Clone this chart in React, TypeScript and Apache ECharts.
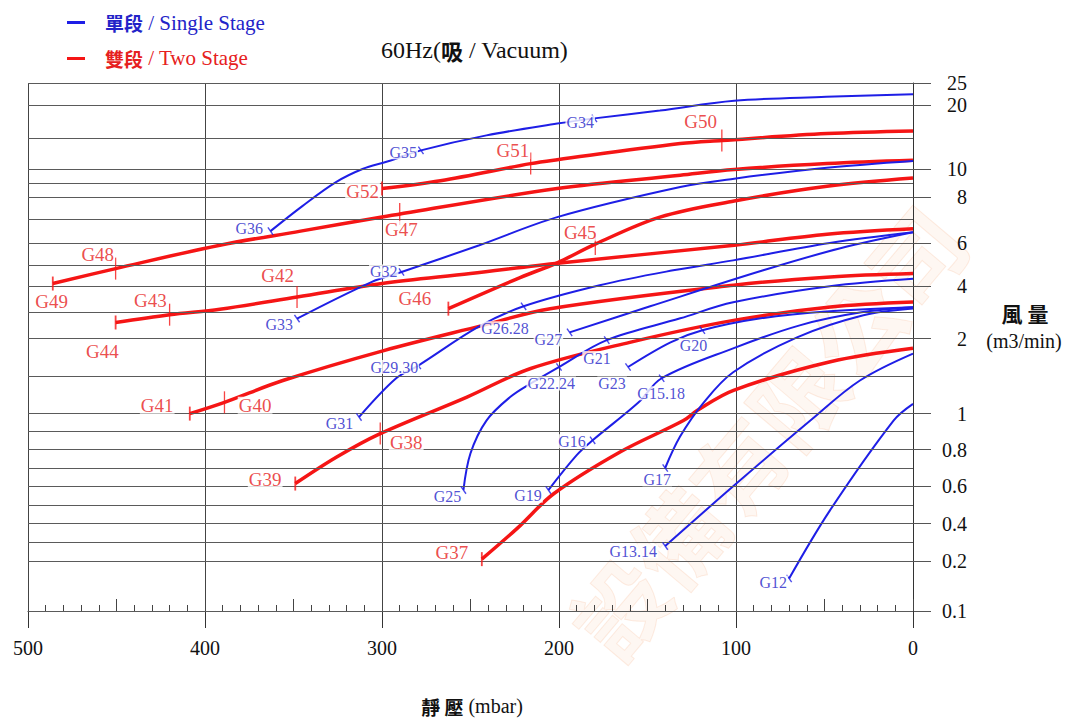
import React, { useEffect, useRef } from "react";
import * as echarts from "echarts";

const BLUE = "#1e1ee6";
const BLUE_TEXT = "#2323c8";
const RED = "#f51515";
const RED_TEXT = "#e62020";
const FONT = "'Liberation Serif', 'Noto Sans CJK TC', serif";
const CJK = "'Noto Sans CJK TC', sans-serif";
const SINGLE = "單段 / Single Stage";
const TWO = "雙段 / Two Stage";

// Vertical scale of the printed chart: gridline values and their measured height above the 0.1 line
const gridValues = [0.1, 0.2, 0.3, 0.4, 0.5, 0.6, 0.7, 0.8, 0.9, 1, 1.5, 2, 3, 4, 5, 6, 7, 8, 9, 10, 15, 20, 25];
const gridHeights = [0, 50, 68.7, 87.4, 106, 124.7, 143, 161.4, 180, 197.4, 235, 272.4, 298.4, 324.7, 346, 368, 391.7, 413.7, 427.4, 442, 473, 505.7, 528];
const yTickValues = [0.1, 0.2, 0.4, 0.6, 0.8, 1, 2, 4, 6, 8, 10, 20, 25];

// Curves: [static pressure mbar, air flow m3/min]
// Single stage (blue)
const g36Curve = [[363, 6.5], [345, 7.6], [326, 9.1], [311, 10.0], [297, 11.2], [278, 13.0], [241, 15.4], [201, 17.2], [180, 18], [143, 19.2], [101, 21], [49, 21.9], [0, 22.5]];
const g33Curve = [[348, 2.77], [306, 4.2], [289, 4.67], [245, 5.9], [201, 7.1], [131.5, 8.75], [101, 9.34], [48.6, 10.2], [0, 11.3]];
const g31Curve = [[313, 0.98], [292, 1.47], [279.5, 1.64], [245.6, 2.45], [220, 3.24], [177, 4.05], [135.5, 4.75], [101.6, 5.21], [47, 6.0], [0, 6.45]];
const g27Curve = [[194, 2.24], [148.5, 3.24], [84.6, 4.75], [41, 5.76], [0, 6.45]];
const g25Curve = [[254, 0.58], [250, 0.78], [241, 0.96], [227.6, 1.22], [216, 1.4], [200, 1.62], [173, 1.98], [131.5, 2.78], [101.6, 3.39], [47, 4.0], [0, 4.35]];
const g23Curve = [[161, 1.62], [137, 1.95], [119, 2.32], [86, 2.78], [47, 3.05], [0, 3.2]];
const g19Curve = [[206, 0.58], [190, 0.77], [181, 0.85], [155, 1.15], [142, 1.47], [101.6, 1.87], [64, 2.51], [30, 3.0], [0, 3.2]];
const g17Curve = [[140, 0.7], [131.6, 0.87], [118.5, 1.14], [101.6, 1.55], [65.5, 2.05], [28, 2.9], [0, 3.16]];
const g13Curve = [[140, 0.28], [101.6, 0.6], [58, 0.96], [30, 1.44], [0, 1.8]];
const g12Curve = [[70, 0.165], [47, 0.47], [11, 0.96], [0, 1.13]];

// Two stage (red)
const g49Curve = [[486, 4.13], [450.5, 4.83], [391.6, 5.9], [346, 6.5], [300, 7.1], [201, 8.64], [131.5, 9.57], [101, 9.96], [48.6, 10.87], [0, 11.4]];
const g52Curve = [[300, 8.64], [267, 9.2], [216, 10.87], [201, 11.5], [131.5, 14.1], [108, 14.6], [48.6, 15.67], [0, 16.07]];
const g44Curve = [[450.5, 2.62], [420, 2.92], [391.6, 3.13], [348, 3.59], [300, 4.13], [250, 4.6], [199.4, 5.09], [101, 5.9], [48.6, 6.37], [0, 6.6]];
const g46Curve = [[262.5, 3.15], [222, 4.41], [201, 5.1], [179.5, 5.95], [143, 7.1], [101, 7.83], [48.6, 8.8], [0, 9.38]];
const g41Curve = [[408.6, 1.0], [389, 1.15], [356, 1.44], [299, 1.84], [243, 2.51], [205, 3.15], [101.4, 4.05], [46.7, 4.44], [0, 4.6]];
const g39Curve = [[349, 0.615], [325.6, 0.76], [301, 0.886], [252, 1.22], [216, 1.6], [160, 1.95], [101.4, 2.7], [46.7, 3.21], [0, 3.4]];
const g37Curve = [[243.6, 0.21], [223, 0.38], [203, 0.56], [165.5, 0.787], [129.7, 0.96], [122, 1.04], [101.4, 1.31], [46.7, 1.69], [0, 1.87]];

// Model range marks on the curves
const blueTicks = [[363, 6.5], [278, 13.0], [180, 18], [348, 2.77], [289, 4.67], [313, 0.98], [279.5, 1.64], [220, 3.24], [194, 2.24], [254, 0.58], [200, 1.62], [173, 1.98], [161, 1.62], [119, 2.32], [206, 0.58], [181, 0.85], [142, 1.47], [140, 0.7], [140, 0.28], [70, 0.165]];
const redStartTicks = [[486, 4.13], [300, 8.64], [450.5, 2.62], [262.5, 3.15], [408.6, 1.0], [349, 0.615], [243.6, 0.21]];
const redMidTicks = [[450.5, 4.83], [290, 7.24], [216, 10.87], [108, 14.6], [420, 2.92], [348, 3.59], [179.5, 5.95], [389, 1.15], [301, 0.886]];

// Model labels: [name, mbar, m3/min]
const blueLabels: [string, number, number][] = [
  ["G36", 375, 6.62], ["G35", 288, 12.7], ["G34", 188, 17.4], ["G32", 299, 4.7], ["G33", 358, 2.55],
  ["G26.28", 230.5, 2.4], ["G27", 206, 1.99], ["G29.30", 293, 1.62], ["G31", 324, 0.944], ["G21", 178.5, 1.74],
  ["G22.24", 204.4, 1.4], ["G23", 170, 1.4], ["G20", 124, 1.91], ["G15.18", 142.3, 1.27], ["G16", 192.6, 0.845],
  ["G17", 144.5, 0.638], ["G25", 263, 0.547], ["G19", 217.5, 0.55], ["G13.14", 158, 0.252], ["G12", 79, 0.157],
];
const redLabels: [string, number, number][] = [
  ["G50", 120, 17.5], ["G51", 226, 13.0], ["G52", 311, 8.44], ["G47", 289, 6.58], ["G48", 460.6, 5.49],
  ["G49", 486.6, 3.43], ["G43", 430.8, 3.47], ["G44", 458, 1.83], ["G42", 359, 4.52], ["G45", 188, 6.45],
  ["G46", 281.4, 3.54], ["G41", 427, 1.11], ["G40", 371.7, 1.11], ["G38", 286.3, 0.839], ["G39", 366, 0.638], ["G37", 260.5, 0.247],
];

const blueCurves = [g36Curve, g33Curve, g31Curve, g27Curve, g25Curve, g23Curve, g19Curve, g17Curve, g13Curve, g12Curve];
const redCurves = [g49Curve, g52Curve, g44Curve, g46Curve, g41Curve, g39Curve, g37Curve];

function yPos(v: number): number {
  const n = gridValues.length;
  for (let i = 0; i < n - 1; i++) {
    if (v <= gridValues[i + 1] || i === n - 2) {
      const t = (v - gridValues[i]) / (gridValues[i + 1] - gridValues[i]);
      return gridHeights[i] + t * (gridHeights[i + 1] - gridHeights[i]);
    }
  }
  return 0;
}

const toXY = (c: number[][]) => c.map(([m, v]) => [m, yPos(v)]);
const yTickPos = yTickValues.map(yPos);

function legendText(name: string) {
  const i = name.indexOf(" /");
  return "{h|" + name.slice(0, i) + "}" + name.slice(i);
}

function buildOption() {
  const series: any[] = [];
  series.push({
    type: "line",
    name: "gridlines",
    data: [],
    silent: true,
    z: 1,
    markLine: {
      silent: true,
      symbol: ["none", "none"],
      label: { show: false },
      lineStyle: { color: "#5a5a5a", width: 1, type: "solid" },
      emphasis: { disabled: true },
      data: gridValues.map((v) => ({ yAxis: yPos(v) })),
    },
  });
  redCurves.forEach((c) =>
    series.push({
      type: "line",
      name: TWO,
      data: toXY(c),
      smooth: 0.35,
      symbol: "none",
      silent: true,
      lineStyle: { color: RED, width: 3.5 },
      itemStyle: { color: RED },
      z: 3,
    })
  );
  blueCurves.forEach((c) =>
    series.push({
      type: "line",
      name: SINGLE,
      data: toXY(c),
      smooth: 0.35,
      symbol: "none",
      silent: true,
      lineStyle: { color: BLUE, width: 2 },
      itemStyle: { color: BLUE },
      z: 4,
    })
  );
  series.push({
    type: "scatter",
    name: "blue-marks",
    data: toXY(blueTicks),
    symbol: "rect",
    symbolSize: [1.4, 9],
    symbolRotate: 35,
    itemStyle: { color: BLUE },
    silent: true,
    z: 5,
  });
  series.push({
    type: "scatter",
    name: "red-start-marks",
    data: toXY(redStartTicks),
    symbol: "rect",
    symbolSize: [1.8, 14],
    itemStyle: { color: RED },
    silent: true,
    z: 5,
  });
  series.push({
    type: "scatter",
    name: "red-mid-marks",
    data: toXY(redMidTicks),
    symbol: "rect",
    symbolSize: [1.3, 22],
    itemStyle: { color: RED },
    silent: true,
    z: 5,
  });
  const labelSeries = (list: [string, number, number][], color: string, size: number, nm: string) => ({
    type: "scatter",
    name: nm,
    data: list.map(([n, m, v]) => ({ name: n, value: [m, yPos(v)] })),
    symbolSize: 1,
    itemStyle: { color: "rgba(0,0,0,0)" },
    silent: true,
    z: 10,
    label: {
      show: true,
      position: "inside",
      formatter: "{b}",
      color,
      fontSize: size,
      fontFamily: FONT,
      backgroundColor: "#ffffff",
      padding: [0, 1],
      lineHeight: size - 2,
    },
  });
  series.push(labelSeries(blueLabels, BLUE_TEXT, 16, "blue-labels"));
  series.push(labelSeries(redLabels, RED_TEXT, 19, "red-labels"));

  return {
    animation: false,
    backgroundColor: "#ffffff",
    textStyle: { fontFamily: FONT },
    title: {
      text: "60Hz({h|吸} / Vacuum)",
      left: 376,
      top: 33,
      textStyle: {
        fontSize: 24,
        fontWeight: "normal",
        color: "#111",
        fontFamily: FONT,
        rich: { h: { fontFamily: CJK, fontWeight: "bold", fontSize: 22, color: "#111" } },
      },
    },
    legend: {
      orient: "vertical",
      left: 62,
      top: 7,
      itemWidth: 18,
      itemHeight: 3,
      itemGap: 15,
      icon: "rect",
      selectedMode: false,
      formatter: legendText,
      textStyle: {
        fontSize: 21,
        fontFamily: FONT,
        padding: [0, 0, 0, 15],
        rich: { h: { fontFamily: CJK, fontWeight: "bold", fontSize: 19 } },
      },
      data: [
        { name: SINGLE, textStyle: { color: BLUE_TEXT } },
        { name: TWO, textStyle: { color: RED_TEXT } },
      ],
    },
    grid: { left: 28, right: 157, top: 83, bottom: 115, containLabel: false },
    xAxis: [
      {
        type: "value",
        min: 0,
        max: 500,
        interval: 100,
        inverse: true,
        position: "bottom",
        axisLine: { show: true, onZero: false, lineStyle: { color: "#333", width: 1 } },
        axisTick: { show: true, inside: false, length: 17, lineStyle: { color: "#333" } },
        axisLabel: { margin: 27, fontSize: 20, color: "#111", fontFamily: FONT },
        splitLine: { show: true, lineStyle: { color: "#444", width: 1 } },
      },
      {
        type: "value",
        min: 0,
        max: 500,
        interval: 50,
        inverse: true,
        position: "bottom",
        axisLine: { show: false },
        axisTick: { show: true, inside: true, length: 12, lineStyle: { color: "#444" } },
        minorTick: { show: true, splitNumber: 5, length: 6, lineStyle: { color: "#444" } },
        axisLabel: { show: false },
        splitLine: { show: false },
      },
    ],
    yAxis: {
      type: "value",
      min: 0,
      max: 528,
      position: "right",
      axisLine: { show: true, lineStyle: { color: "#333", width: 1 } },
      axisTick: { show: true, customValues: yTickPos, length: 18, lineStyle: { color: "#555" } },
      axisLabel: {
        show: true,
        customValues: yTickPos,
        align: "right",
        margin: 54,
        fontSize: 20,
        color: "#111",
        fontFamily: FONT,
        formatter: (val: number) => {
          let best = 0;
          for (let i = 1; i < yTickPos.length; i++) {
            if (Math.abs(yTickPos[i] - val) < Math.abs(yTickPos[best] - val)) best = i;
          }
          return String(yTickValues[best]);
        },
      },
      splitLine: { show: false },
    },
    graphic: [
      {
        type: "text",
        x: 765,
        y: 430,
        rotation: 0.87,
        z: -10,
        silent: true,
        style: {
          text: "設備有限公司",
          font: "bold 92px 'Noto Sans CJK TC'",
          fill: "rgba(244,150,95,0.08)",
          stroke: "rgba(244,150,95,0.16)",
          lineWidth: 1,
          align: "center",
          verticalAlign: "middle",
          textAlign: "center",
          textVerticalAlign: "middle",
        },
      },
      {
        type: "text",
        x: 1025,
        y: 313,
        silent: true,
        style: {
          text: "風 量",
          font: "bold 21px 'Noto Sans CJK TC'",
          fill: "#111",
          align: "center",
          verticalAlign: "middle",
          textAlign: "center",
          textVerticalAlign: "middle",
        },
      },
      {
        type: "text",
        x: 1024,
        y: 341,
        silent: true,
        style: {
          text: "(m3/min)",
          font: "20px 'Liberation Serif'",
          fill: "#111",
          align: "center",
          verticalAlign: "middle",
          textAlign: "center",
          textVerticalAlign: "middle",
        },
      },
      {
        type: "text",
        x: 472,
        y: 706,
        silent: true,
        style: {
          text: "{h|靜 壓} (mbar)",
          font: "20px 'Liberation Serif'",
          fill: "#111",
          align: "center",
          verticalAlign: "middle",
          textAlign: "center",
          textVerticalAlign: "middle",
          rich: { h: { fontFamily: CJK, fontWeight: "bold", fontSize: 19, fill: "#111", color: "#111" } },
        },
      },
    ],
    series,
  };
}

export default function App() {
  const ref = useRef<HTMLDivElement>(null);
  useEffect(() => {
    document.body.style.margin = "0";
    if (!ref.current) return;
    const chart = echarts.init(ref.current, null, { renderer: "svg" });
    chart.setOption(buildOption() as any);
    return () => chart.dispose();
  }, []);
  return <div ref={ref} style={{ width: 1070, height: 726, overflow: "hidden" }} />;
}
